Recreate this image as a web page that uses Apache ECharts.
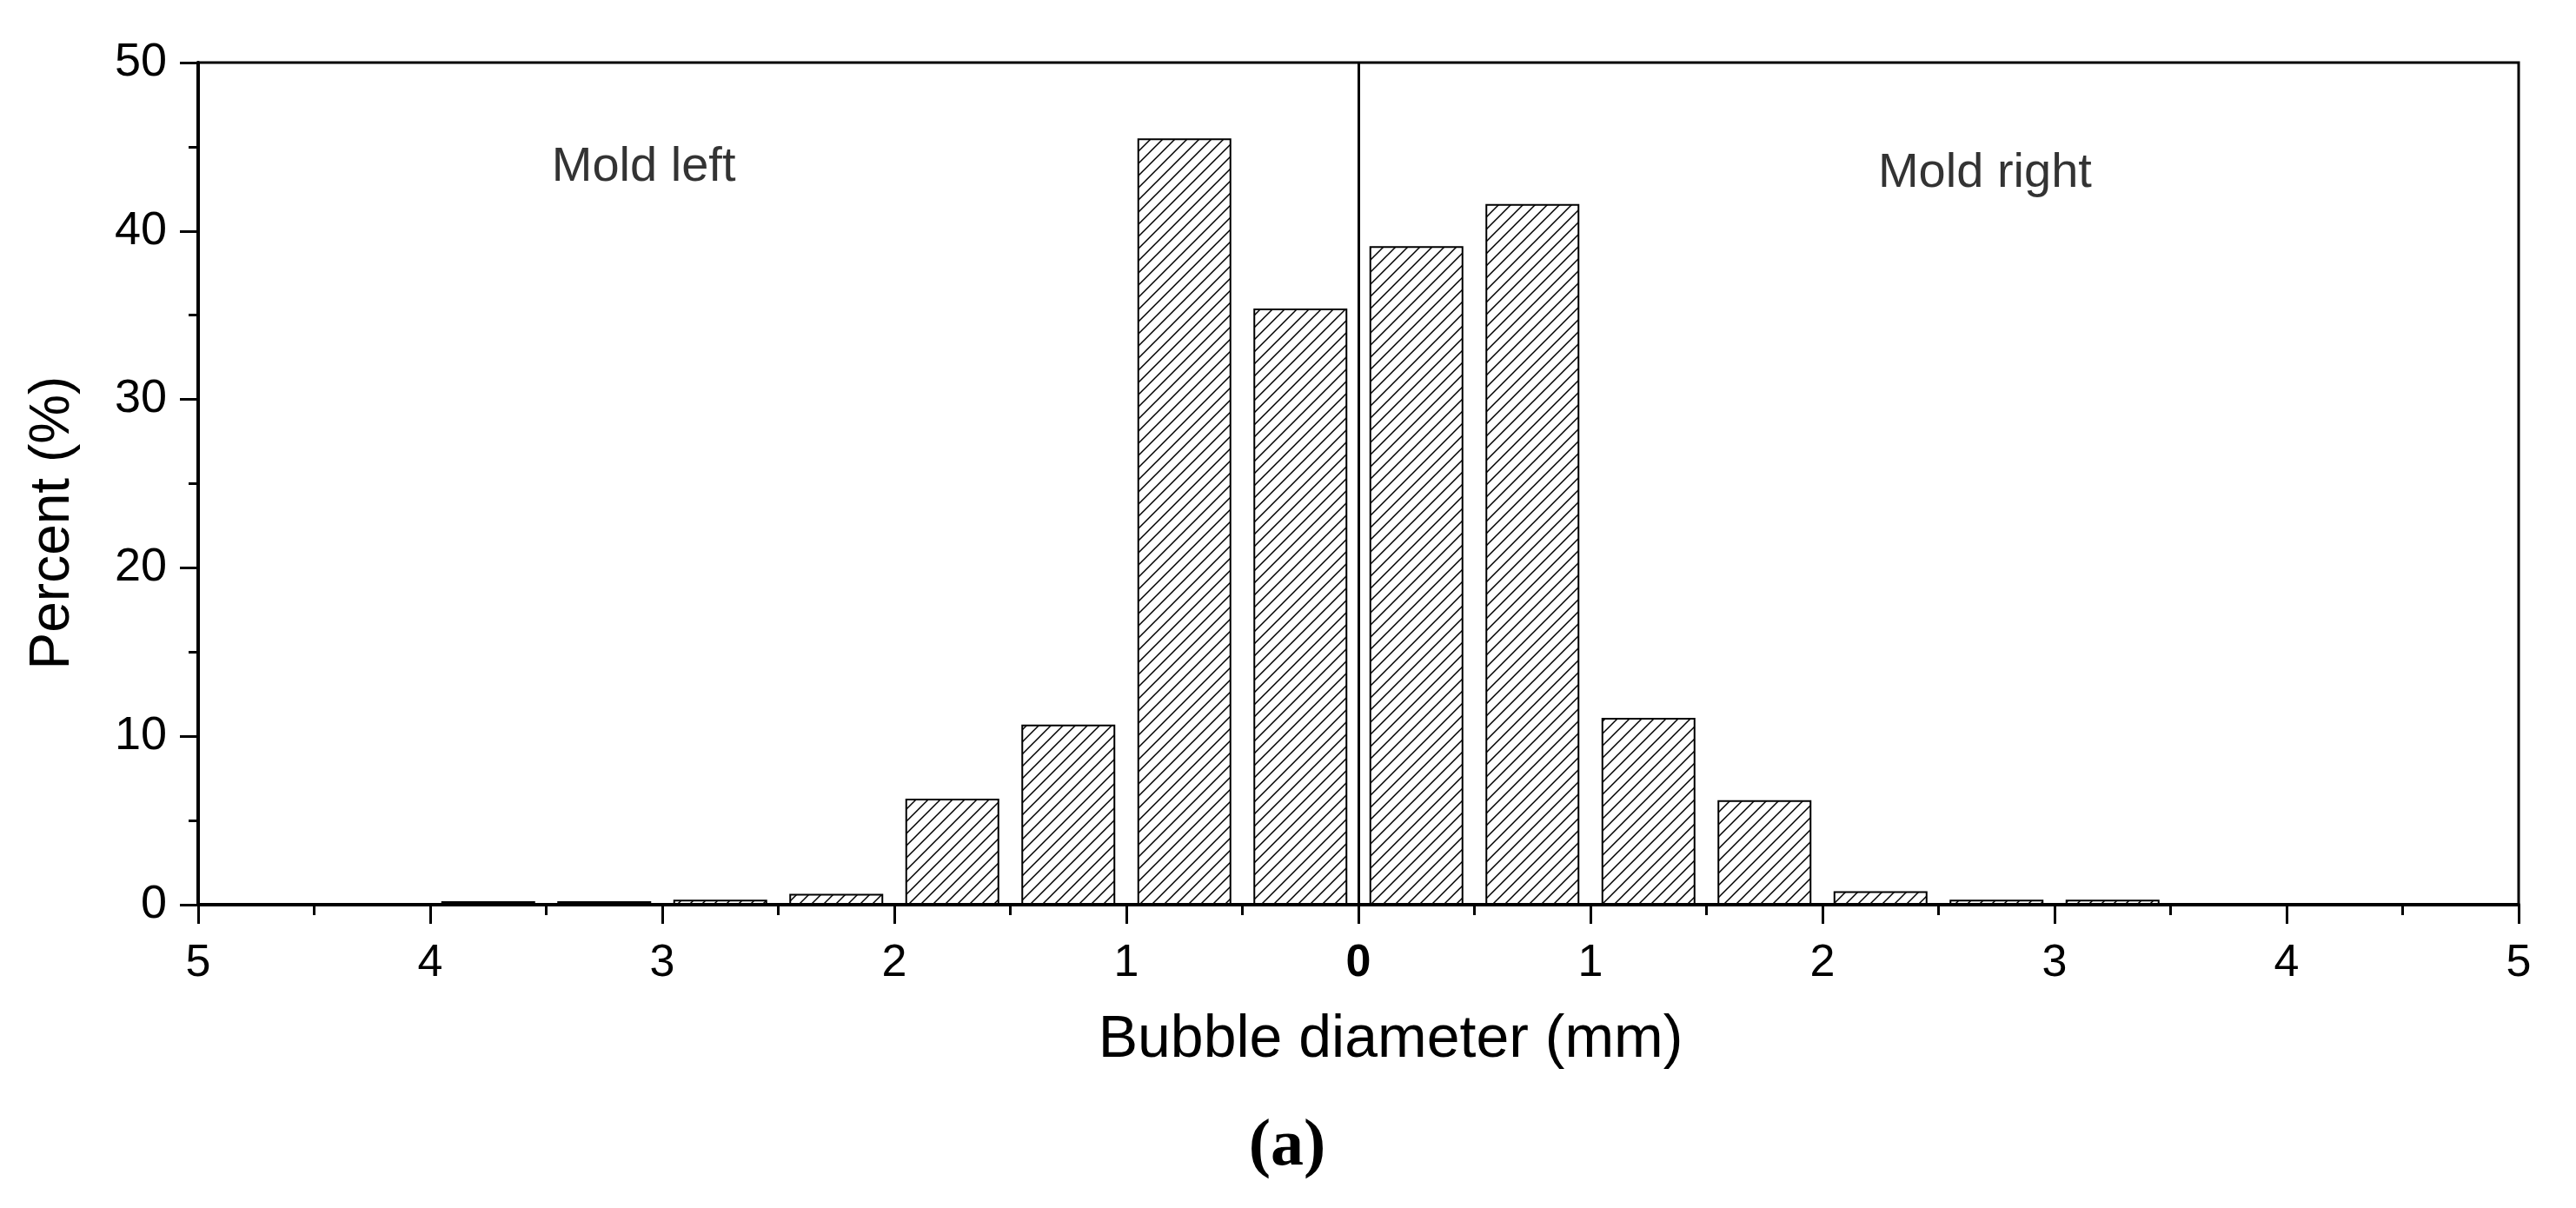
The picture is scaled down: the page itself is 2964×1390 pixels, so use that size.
<!DOCTYPE html>
<html>
<head>
<meta charset="utf-8">
<script src="https://cdn.jsdelivr.net/npm/echarts@6/dist/echarts.min.js"></script>
<style>
html,body{margin:0;padding:0;background:#fff;}
#chart{width:2964px;height:1390px;}
</style>
</head>
<body>
<div id="chart"></div>
<script>
// Bin centres (mm) — left mold plotted on the negative side, right mold on the positive side
const leftCenters  = [0.25, 0.75, 1.25, 1.75, 2.25, 2.75, 3.25, 3.75];
const leftPercent  = [35.4, 45.5, 10.7, 6.3, 0.65, 0.3, 0.2, 0.2];
const rightCenters = [0.25, 0.75, 1.25, 1.75, 2.25, 2.75, 3.25];
const rightPercent = [39.1, 41.6, 11.1, 6.2, 0.8, 0.3, 0.3];
const xTicks = [5, 4, 3, 2, 1, 0, 1, 2, 3, 4, 5];
const yTicks = [0, 10, 20, 30, 40, 50];
const annotations = [[-3.08, 43.8, 'Mold left'], [2.7, 43.4, 'Mold right']];

const FONT = '"Liberation Sans", Arial, sans-serif';

// hatch pattern
const s = 14;
const pc = document.createElement('canvas');
pc.width = s; pc.height = s;
const g = pc.getContext('2d');
g.fillStyle = '#fff'; g.fillRect(0, 0, s, s);
g.strokeStyle = '#000'; g.lineWidth = 1.5;
g.beginPath();
g.moveTo(0, s); g.lineTo(s, 0);
g.moveTo(-2, 2); g.lineTo(2, -2);
g.moveTo(s - 2, s + 2); g.lineTo(s + 2, s - 2);
g.stroke();

const barData = [];
leftCenters.forEach((c, i) => barData.push([-c, leftPercent[i]]));
rightCenters.forEach((c, i) => barData.push([c, rightPercent[i]]));

const chart = echarts.init(document.getElementById('chart'), null, {renderer: 'canvas'});
chart.setOption({
  animation: false,
  backgroundColor: '#fff',
  grid: {left: 228, right: 66, top: 72, bottom: 349, show: true, borderColor: '#000', borderWidth: 3, backgroundColor: '#fff'},
  xAxis: {
    type: 'value', min: -5, max: 5, interval: 1,
    name: 'Bubble diameter (mm)', nameLocation: 'middle', nameGap: 122,
    nameTextStyle: {fontFamily: FONT, fontSize: 68, color: '#000', padding: [0, 0, 0, 74]},
    axisLine: {show: true, onZero: false, lineStyle: {color: '#000', width: 4}},
    axisTick: {show: true, inside: false, length: 22, lineStyle: {color: '#000', width: 3}},
    minorTick: {show: true, splitNumber: 2, length: 12, lineStyle: {color: '#000', width: 3}},
    splitLine: {show: false},
    axisLabel: {
      margin: 42, fontFamily: FONT, fontSize: 52, color: '#000',
      formatter: function (v) { const i = Math.round(v + 5); return v === 0 ? '{b|' + xTicks[i] + '}' : String(xTicks[i]); },
      rich: {b: {fontFamily: FONT, fontSize: 52, fontWeight: 'bold', color: '#000'}}
    }
  },
  yAxis: {
    type: 'value', min: 0, max: 50, interval: 10,
    name: 'Percent (%)', nameLocation: 'middle', nameGap: 135,
    nameTextStyle: {fontFamily: FONT, fontSize: 64, color: '#000', padding: [0, 90, 0, 0]},
    axisLine: {show: true, onZero: false, lineStyle: {color: '#000', width: 4}},
    axisTick: {show: true, inside: false, length: 21, lineStyle: {color: '#000', width: 3}},
    minorTick: {show: true, splitNumber: 2, length: 11, lineStyle: {color: '#000', width: 3}},
    splitLine: {show: false},
    axisLabel: {margin: 36, fontFamily: FONT, fontSize: 54, color: '#000',
      formatter: function (v) { return String(yTicks[Math.round(v / 10)]); }}
  },
  series: [
    {
      type: 'bar',
      data: barData,
      barWidth: 108,
      itemStyle: {color: {image: pc, repeat: 'repeat'}, borderColor: '#000', borderWidth: 2},
      markLine: {
        silent: true, symbol: 'none', label: {show: false},
        lineStyle: {color: '#000', width: 3, type: 'solid'},
        data: [{xAxis: 0}]
      }
    },
    {
      type: 'scatter',
      data: annotations,
      symbolSize: 1,
      itemStyle: {color: 'rgba(0,0,0,0)'},
      silent: true,
      label: {show: true, position: 'inside', formatter: p => p.data[2], fontFamily: FONT, fontSize: 56, color: '#000'}
    }
  ],
  graphic: [{
    type: 'text', x: 1481, y: 1320,
    style: {text: '(a)', font: 'bold 76px "Liberation Serif", "Times New Roman", serif', fill: '#000', align: 'center', verticalAlign: 'middle'}
  }]
});
</script>
</body>
</html>
